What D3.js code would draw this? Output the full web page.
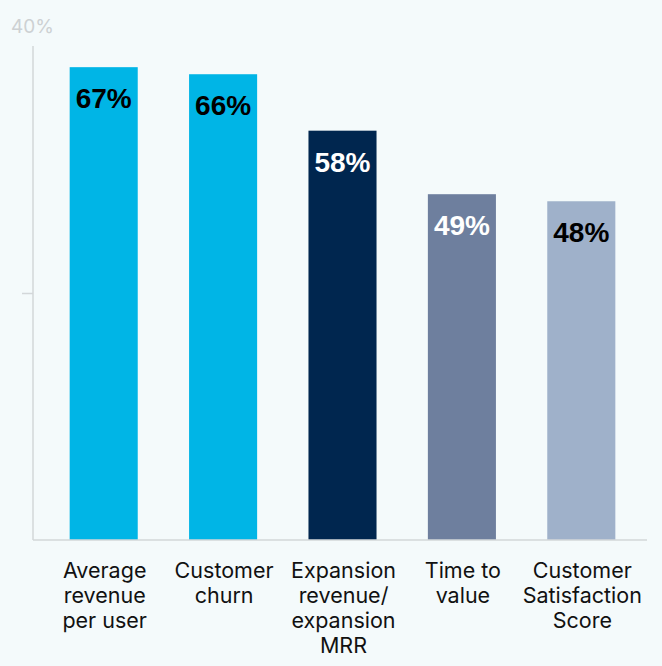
<!DOCTYPE html>
<html><head><meta charset="utf-8">
<script src="https://cdn.jsdelivr.net/npm/d3@7"></script>
<style>
html,body{margin:0;padding:0;background:#f4fafb;}
svg{display:block;font-family:Inter,"Liberation Sans",Arial,sans-serif;}
</style></head>
<body><div id="chart"></div>
<script>
const categories = [["Average","revenue","per user"],["Customer","churn"],["Expansion","revenue/","expansion","MRR"],["Time to","value"],["Customer","Satisfaction","Score"]];
const values = [67, 66, 58, 49, 48];
const barColors = ["#00b5e6","#00b5e6","#00264f","#6e7f9e","#9fb1ca"];
const labelColors = ["#000","#000","#fff","#fff","#000"];
const yTicks = [35, 70];
const topLabel = "40%";

const W = 662, H = 666;
const svg = d3.select("#chart").append("svg").attr("width", W).attr("height", H);
svg.append("rect").attr("width", W).attr("height", H).attr("fill", "#f4fafb");

const x = d3.scaleBand().domain(d3.range(values.length)).range([44, 641]).paddingInner(0.43).paddingOuter(0.215);
const y = d3.scaleLinear().domain([0, 70]).range([540, 46]);

// y axis
const yAxis = svg.append("g").attr("transform", "translate(33,0)")
  .call(d3.axisLeft(y).tickValues(yTicks).tickSize(11).tickFormat(""));
yAxis.select(".domain").attr("stroke", "#d3d7d9").attr("stroke-width", 1.5).attr("d", `M0,${y(70)}V${y(0)}`);
yAxis.selectAll(".tick line").attr("stroke", "#d3d7d9").attr("stroke-width", 1.5)
  .attr("display", d => d === 70 ? "none" : null);
svg.append("text").attr("x", 11).attr("y", 33).attr("font-size", 19).attr("fill", "#cdd1d3").text(topLabel);

// bars
svg.selectAll("rect.bar").data(values).join("rect").attr("class", "bar")
  .attr("x", (d, i) => x(i)).attr("width", x.bandwidth())
  .attr("y", d => y(d)).attr("height", d => y(0) - y(d))
  .attr("fill", (d, i) => barColors[i]);

// baseline
svg.append("line").attr("x1", 33).attr("x2", 647).attr("y1", y(0)).attr("y2", y(0))
  .attr("stroke", "#d3d7d9").attr("stroke-width", 1.5);

// value labels
svg.selectAll("text.val").data(values).join("text").attr("class", "val")
  .attr("x", (d, i) => x(i) + x.bandwidth() / 2).attr("y", d => y(d) + 41)
  .attr("text-anchor", "middle").attr("font-size", 28).attr("font-weight", "bold")
  .attr("font-family", "'Liberation Sans',Arial,sans-serif")
  .attr("fill", (d, i) => labelColors[i]).text(d => d + "%");

// category labels
const cat = svg.selectAll("text.cat").data(categories).join("text").attr("class", "cat")
  .attr("x", (d, i) => x(i) + x.bandwidth() / 2 + 1).attr("y", 578)
  .attr("text-anchor", "middle").attr("font-size", 21.5).attr("fill", "#111");
cat.selectAll("tspan").data(d => d).join("tspan")
  .attr("x", function () { return d3.select(this.parentNode).attr("x"); })
  .attr("dy", (d, j) => j === 0 ? 0 : 25).text(d => d);
</script></body></html>
